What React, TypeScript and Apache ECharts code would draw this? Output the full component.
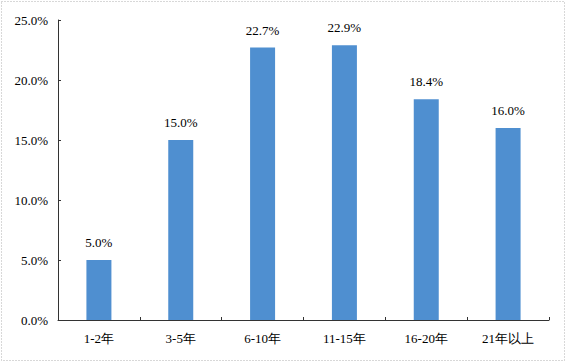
import React, { useEffect, useRef } from "react";
import * as echarts from "echarts";

const categories = ["1-2年", "3-5年", "6-10年", "11-15年", "16-20年", "21年以上"];
const values = [5.0, 15.0, 22.7, 22.9, 18.4, 16.0];
const yTicks = [0, 5, 10, 15, 20, 25];

export default function App() {
  const ref = useRef<HTMLDivElement>(null);
  useEffect(() => {
    document.body.style.margin = "0";
    const chart = echarts.init(ref.current!, null, { renderer: "svg" });
    const font = "'Times New Roman', 'Liberation Serif', serif";
    chart.setOption({
      animation: false,
      backgroundColor: "#ffffff",
      textStyle: { fontFamily: font },
      graphic: [
        {
          type: "rect",
          shape: { x: 1.5, y: 1.5, width: 563, height: 359 },
          style: { fill: "none", stroke: "#b0b0b0", lineWidth: 1, lineDash: [1, 2] },
          silent: true,
        },
      ],
      grid: { left: 58, right: 18, top: 20, bottom: 43 },
      xAxis: {
        type: "category",
        data: categories,
        axisLine: { lineStyle: { color: "#333", width: 1 } },
        axisTick: { show: true, inside: true, length: 3, lineStyle: { color: "#333" } },
        axisLabel: { color: "#000", fontSize: 13, fontFamily: font, margin: 12 },
      },
      yAxis: {
        type: "value",
        min: yTicks[0],
        max: yTicks[yTicks.length - 1],
        interval: 5,
        axisLine: { show: true, lineStyle: { color: "#333", width: 1 } },
        axisTick: { show: true, inside: true, length: 3, lineStyle: { color: "#333" } },
        splitLine: { show: false },
        axisLabel: {
          color: "#000",
          fontSize: 13,
          fontFamily: font,
          margin: 10,
          formatter: (v: number) => v.toFixed(1) + "%",
        },
      },
      series: [
        {
          type: "bar",
          data: values,
          barWidth: 25,
          itemStyle: { color: "#4F8FD0" },
          label: {
            show: true,
            position: "top",
            distance: 11,
            color: "#000",
            fontSize: 13,
            fontFamily: font,
            formatter: (p: any) => Number(p.value).toFixed(1) + "%",
          },
        },
      ],
    });
    return () => chart.dispose();
  }, []);
  return (
    <div
      ref={ref}
      style={{ position: "absolute", left: 0, top: 0, width: 567, height: 363 }}
    />
  );
}
